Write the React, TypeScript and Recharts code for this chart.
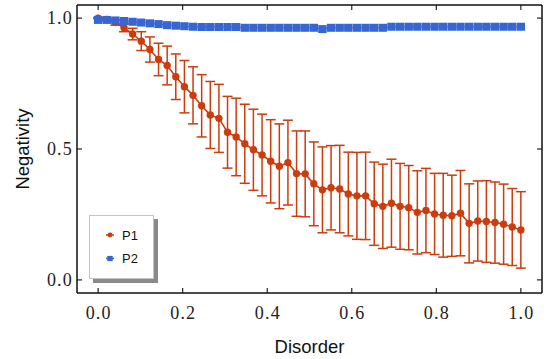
import React from 'react';
import { ComposedChart, Line, XAxis, YAxis, ErrorBar, Legend } from 'recharts';

// Disorder values (50 evenly spaced samples from 0 to 1)
const disorder = [
  0, 0.0204, 0.0408, 0.0612, 0.0816, 0.102, 0.1224, 0.1429, 0.1633, 0.1837,
  0.2041, 0.2245, 0.2449, 0.2653, 0.2857, 0.3061, 0.3265, 0.3469, 0.3673, 0.3878,
  0.4082, 0.4286, 0.449, 0.4694, 0.4898, 0.5102, 0.5306, 0.551, 0.5714, 0.5918,
  0.6122, 0.6327, 0.6531, 0.6735, 0.6939, 0.7143, 0.7347, 0.7551, 0.7755, 0.7959,
  0.8163, 0.8367, 0.8571, 0.8776, 0.898, 0.9184, 0.9388, 0.9592, 0.9796, 1.0,
];

const p1Values = [
  1.0, 0.995, 0.983, 0.963, 0.939, 0.912, 0.88, 0.842, 0.819, 0.776,
  0.738, 0.705, 0.665, 0.63, 0.617, 0.564, 0.546, 0.52, 0.497, 0.477,
  0.453, 0.434, 0.448, 0.406, 0.405, 0.367, 0.344, 0.352, 0.347, 0.328,
  0.321, 0.321, 0.291, 0.281, 0.293, 0.281, 0.276, 0.258, 0.265, 0.252,
  0.247, 0.245, 0.255, 0.216, 0.225, 0.223, 0.219, 0.213, 0.202, 0.191,
];

const p1Errors = [
  0.002, 0.005, 0.01, 0.015, 0.022, 0.036, 0.048, 0.062, 0.074, 0.087,
  0.1, 0.109, 0.119, 0.128, 0.13, 0.137, 0.148, 0.151, 0.155, 0.156,
  0.159, 0.162, 0.162, 0.163, 0.164, 0.16, 0.164, 0.161, 0.167, 0.16,
  0.166, 0.167, 0.159, 0.161, 0.168, 0.164, 0.161, 0.159, 0.161, 0.155,
  0.16, 0.155, 0.163, 0.151, 0.153, 0.156, 0.155, 0.153, 0.147, 0.146,
];

const p2Values = [
  0.993, 0.993, 0.991, 0.989, 0.986, 0.983, 0.98, 0.977, 0.973, 0.971,
  0.969, 0.967, 0.966, 0.966, 0.966, 0.966, 0.966, 0.963, 0.963, 0.963,
  0.963, 0.963, 0.963, 0.963, 0.963, 0.963, 0.958, 0.963, 0.963, 0.963,
  0.963, 0.963, 0.963, 0.963, 0.967, 0.967, 0.967, 0.967, 0.967, 0.967,
  0.967, 0.967, 0.967, 0.967, 0.967, 0.967, 0.967, 0.967, 0.967, 0.967,
];

const xTicks = [0, 0.2, 0.4, 0.6, 0.8, 1.0];
const yTicks = [0, 0.5, 1.0];
const seriesNames = ['P1', 'P2'];

const RED = '#cc3c0c';
const BLUE = '#3566d4';
const AXIS = '#111';
const DOMAIN: [number, number] = [-0.05, 1.05];

const data = disorder.map((d, i) => ({
  x: d,
  p1: p1Values[i],
  p1Err: p1Errors[i],
  p2: p2Values[i],
}));

const tickFont = { fontFamily: '"Liberation Serif", serif', fontSize: 18, fill: '#222', letterSpacing: 1.2 };
const labelFont = { fontFamily: '"Liberation Sans", Arial, sans-serif', fontSize: 18.5, fill: '#111' };

const BottomTick = (props: any) => {
  const { x, y, payload } = props;
  return (
    <g>
      <line x1={x} x2={x} y1={y} y2={y - 5} stroke={AXIS} strokeWidth={1.1} />
      <text x={x + 0.6} y={y + 25.5} textAnchor="middle" {...tickFont}>
        {Number(payload.value).toFixed(1)}
      </text>
    </g>
  );
};

const TopTick = (props: any) => {
  const { x, y } = props;
  return <line x1={x} x2={x} y1={y} y2={y + 5} stroke={AXIS} strokeWidth={1.1} />;
};

const LeftTick = (props: any) => {
  const { x, y, payload } = props;
  return (
    <g>
      <line x1={x} x2={x + 5} y1={y} y2={y} stroke={AXIS} strokeWidth={1.1} />
      <text x={x - 4} y={y + 6} textAnchor="end" {...tickFont}>
        {Number(payload.value).toFixed(1)}
      </text>
    </g>
  );
};

const RightTick = (props: any) => {
  const { x, y } = props;
  return <line x1={x} x2={x - 5} y1={y} y2={y} stroke={AXIS} strokeWidth={1.1} />;
};

const Square = (props: any) => {
  const { cx, cy, index } = props;
  if (cx == null || cy == null) return <g key={`sq-${index}`} />;
  return <rect key={`sq-${index}`} x={cx - 4.2} y={cy - 4} width={8.4} height={8} fill={BLUE} />;
};

const LegendBox = (props: any) => {
  const payload = props.payload || [];
  return (
    <div
      style={{
        width: 65,
        height: 64,
        background: '#fff',
        border: '1px solid #c4c4c4',
        boxShadow: '4px 4px 0 #8a8a8a',
        boxSizing: 'border-box',
        position: 'relative',
      }}
    >
      <svg width={65} height={64} style={{ position: 'absolute', left: -1, top: -1 }}>
        {payload.map((entry: any, i: number) => {
          const cy = 20 + i * 23.5;
          const color = entry.color;
          return (
            <g key={entry.value}>
              <line x1={17} x2={25} y1={cy} y2={cy} stroke={color} strokeWidth={1.5} />
              {i === 0 ? (
                <circle cx={21} cy={cy} r={2.4} fill={color} />
              ) : (
                <rect x={18.3} y={cy - 2.6} width={5.4} height={5.2} fill={color} />
              )}
              <text x={33} y={cy + 4.7} fontFamily='"Liberation Sans", Arial, sans-serif' fontSize={13} fill="#111">
                {entry.value}
              </text>
            </g>
          );
        })}
      </svg>
    </div>
  );
};

export default function App() {
  return (
    <div style={{ position: 'absolute', left: 0, top: 0, width: 550, height: 359, background: '#fff' }}>
      <ComposedChart width={550} height={359} data={data} margin={{ top: 4, right: 7, bottom: 0, left: 0 }}>
        <XAxis
          xAxisId="bottom"
          dataKey="x"
          type="number"
          domain={DOMAIN}
          allowDataOverflow
          ticks={xTicks}
          orientation="bottom"
          height={66}
          tickSize={0}
          tickMargin={0}
          tickLine={false}
          axisLine={{ stroke: AXIS, strokeWidth: 1.5 }}
          tick={<BottomTick />}
          interval={0}
          label={{ value: 'Disorder', position: 'insideBottom', offset: 6, style: labelFont }}
        />
        <XAxis
          xAxisId="top"
          dataKey="x"
          type="number"
          domain={DOMAIN}
          allowDataOverflow
          ticks={xTicks}
          orientation="top"
          height={1}
          tickSize={0}
          tickMargin={0}
          tickLine={false}
          axisLine={{ stroke: AXIS, strokeWidth: 1.5 }}
          tick={<TopTick />}
          interval={0}
        />
        <YAxis
          yAxisId="left"
          type="number"
          domain={DOMAIN}
          allowDataOverflow
          ticks={yTicks}
          orientation="left"
          width={77}
          tickSize={0}
          tickMargin={0}
          tickLine={false}
          axisLine={{ stroke: AXIS, strokeWidth: 1.5 }}
          tick={<LeftTick />}
          interval={0}
          label={{
            content: (p: any) => {
              const vb = p.viewBox || { x: 0, y: 0, width: 77, height: 288 };
              const cx = vb.x + 22.5;
              const cy = vb.y + vb.height / 2;
              return (
                <text
                  x={cx}
                  y={cy}
                  transform={`rotate(-90, ${cx}, ${cy})`}
                  textAnchor="middle"
                  dy="0.355em"
                  {...labelFont}
                >
                  Negativity
                </text>
              );
            },
          }}
        />
        <YAxis
          yAxisId="right"
          type="number"
          domain={DOMAIN}
          allowDataOverflow
          ticks={yTicks}
          orientation="right"
          width={1}
          tickSize={0}
          tickMargin={0}
          tickLine={false}
          axisLine={{ stroke: AXIS, strokeWidth: 1.5 }}
          tick={<RightTick />}
          interval={0}
        />
        <Legend
          layout="vertical"
          align="center"
          verticalAlign="middle"
          content={<LegendBox />}
          wrapperStyle={{ left: 89, top: 215, width: 70, height: 70 }}
        />
        <Line
          xAxisId="bottom"
          yAxisId="left"
          name={seriesNames[0]}
          dataKey="p1"
          stroke={RED}
          strokeWidth={1.6}
          dot={{ r: 3.7, fill: RED, stroke: 'none' }}
          activeDot={false}
          isAnimationActive={false}
        >
          <ErrorBar dataKey="p1Err" direction="y" width={5} stroke={RED} strokeWidth={1.5} isAnimationActive={false} />
        </Line>
        <Line
          xAxisId="top"
          yAxisId="right"
          name={seriesNames[1]}
          dataKey="p2"
          stroke={BLUE}
          strokeWidth={1}
          dot={<Square />}
          activeDot={false}
          isAnimationActive={false}
        />
      </ComposedChart>
    </div>
  );
}
